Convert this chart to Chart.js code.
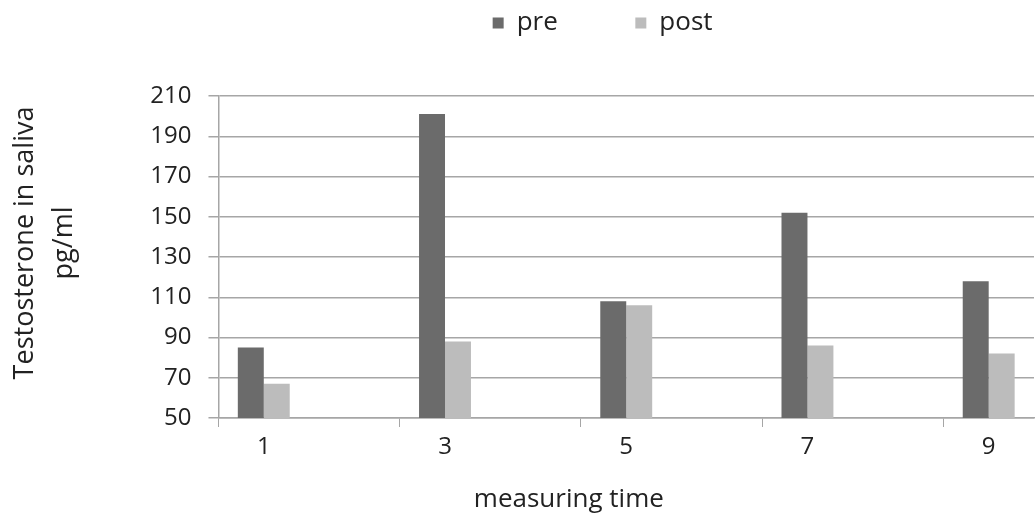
<!DOCTYPE html>
<html lang="en">
<head>
  <meta charset="UTF-8">
  <title>Testosterone in saliva</title>
  <script src="https://cdn.jsdelivr.net/npm/chart.js"></script>
  <style>
    html, body { margin: 0; padding: 0; background: #fff; }
    #wrap { width: 1036px; height: 515px; position: relative; }
  </style>
</head>
<body>
  <div id="wrap"><canvas id="barChart"></canvas></div>

  <script>
    // measuring times 1..9, samples only at odd times
    const measuringTimes = [1, 2, 3, 4, 5, 6, 7, 8, 9];
    const sampledTimes = [1, 3, 5, 7, 9];
    const preValues = [85, 201, 108, 152, 118];
    const postValues = [67, 88, 106, 86, 82];
    const yTicks = [50, 70, 90, 110, 130, 150, 170, 190, 210];

    const gridColor = '#a6a6a6';
    const textColor = '#222222';
    const font = { family: "'Open Sans', sans-serif", size: 24 };
    const wordFont = { family: "'Open Sans', sans-serif", size: 26 };
    const nbsp = n => '\u00a0'.repeat(n);

    function spread(values) {
      return measuringTimes.map(t => {
        const i = sampledTimes.indexOf(t);
        return i === -1 ? null : values[i];
      });
    }

    const ctx = document.getElementById('barChart').getContext('2d');
    new Chart(ctx, {
      type: 'bar',
      data: {
        labels: measuringTimes.map(String),
        datasets: [
          { label: 'pre' + nbsp(10), data: spread(preValues), backgroundColor: '#6b6b6b' },
          { label: 'post' + nbsp(7), data: spread(postValues), backgroundColor: '#bcbcbc' }
        ]
      },
      options: {
        responsive: true,
        maintainAspectRatio: false,
        animation: false,
        categoryPercentage: 0.573,
        barPercentage: 1,
        layout: { padding: { left: 2, right: 2, top: 0, bottom: 0 } },
        plugins: {
          legend: {
            position: 'top',
            fullSize: false,
            labels: { font: wordFont, color: textColor, boxWidth: 11, boxHeight: 11, padding: 10 }
          },
          title: { display: true, text: '', weight: 500, font: { size: 10 }, padding: { top: 0, bottom: 38 } },
          tooltip: { enabled: false }
        },
        scales: {
          x: {
            grid: {
              offset: true,
              drawOnChartArea: false,
              tickLength: 9,
              color: c => (c.index % 2 === 0 ? gridColor : 'rgba(0,0,0,0)')
            },
            border: { color: gridColor, width: 1.5 },
            ticks: {
              autoSkip: false,
              maxRotation: 0,
              padding: 6,
              font: font,
              color: textColor,
              callback: function (val, i) { return i % 2 === 0 ? this.getLabelForValue(val) : ''; }
            },
            title: {
              display: true,
              text: 'measuring time' + nbsp(17),
              font: wordFont,
              color: textColor,
              padding: { top: 16, bottom: 0 }
            }
          },
          y: {
            min: yTicks[0],
            max: yTicks[yTicks.length - 1],
            afterBuildTicks: axis => { axis.ticks = yTicks.map(v => ({ value: v })); },
            grid: { color: gridColor, lineWidth: 1.5, tickLength: 10 },
            border: { color: gridColor, width: 1.5 },
            ticks: { padding: 17, font: font, color: textColor },
            title: {
              display: true,
              text: [nbsp(4) + 'Testosterone in saliva', nbsp(4) + 'pg/ml'],
              font: Object.assign({}, wordFont, { size: 27, lineHeight: 1.45 }),
              color: textColor,
              padding: { top: 4, bottom: 49 }
            }
          }
        }
      }
    });
  </script>
</body>
</html>
